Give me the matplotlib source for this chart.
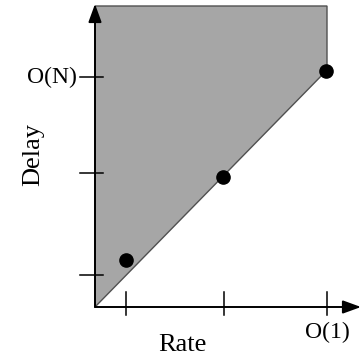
import matplotlib
matplotlib.use('Agg')
import matplotlib.pyplot as plt
from matplotlib.patches import Polygon

# ─── Data (1 unit ~ 100 px, origin at the axes corner) ─────────────────────
x_ticks = [0.31, 1.29, 2.32]
y_ticks = [0.32, 1.34, 2.30]
x_tick_labels = ['', '', 'O(1)']
y_tick_labels = ['', '', 'O(N)']
pt_rate  = [0.31, 1.28, 2.31]
pt_delay = [0.47, 1.30, 2.36]
region_x = [0.0, 2.32, 2.32, 0.0]
region_y = [0.0, 2.37, 3.01, 3.01]

C_FILL = '#a6a6a6'
C_EDGE = '#505050'
FONT = 'Liberation Serif'

fig = plt.figure(figsize=(3.64, 3.56), dpi=100)
ax = fig.add_axes([0, 0, 1, 1])
ax.set_xlim(-0.95, 2.69)
ax.set_ylim(-0.49, 3.07)
ax.axis('off')

# shaded region
ax.add_patch(Polygon(list(zip(region_x, region_y)), closed=True,
                     fc=C_FILL, ec=C_EDGE, lw=1.0, zorder=1))

# axes with arrows
arr = dict(arrowstyle='-|>,head_length=1.1,head_width=0.4', mutation_scale=10,
           color='black', lw=1.4, shrinkA=0, shrinkB=0)
ax.annotate('', xy=(0, 3.03), xytext=(0, 0), arrowprops=arr, zorder=3)
ax.annotate('', xy=(2.66, 0), xytext=(0, 0), arrowprops=arr, zorder=3)

# ticks crossing the axes
for xt, lab in zip(x_ticks, x_tick_labels):
    ax.plot([xt, xt], [-0.08, 0.15], color='black', lw=1.1, zorder=3)
    if lab:
        ax.text(xt, -0.25, lab, ha='center', va='center', fontsize=17,
                family=FONT)
for yt, lab in zip(y_ticks, y_tick_labels):
    ax.plot([-0.15, 0.08], [yt, yt], color='black', lw=1.1, zorder=3)
    if lab:
        ax.text(-0.18, yt, lab, ha='right', va='center', fontsize=17,
                family=FONT)

# points
ax.plot(pt_rate, pt_delay, 'o', color='black', ms=9.5, zorder=4)

# axis labels
ax.text(0.87, -0.38, 'Rate', ha='center', va='center', fontsize=19,
        family=FONT)
ax.text(-0.62, 1.53, 'Delay', ha='center', va='center', fontsize=19,
        family=FONT, rotation=90)

fig.savefig('out.png', dpi=100, facecolor='white')
